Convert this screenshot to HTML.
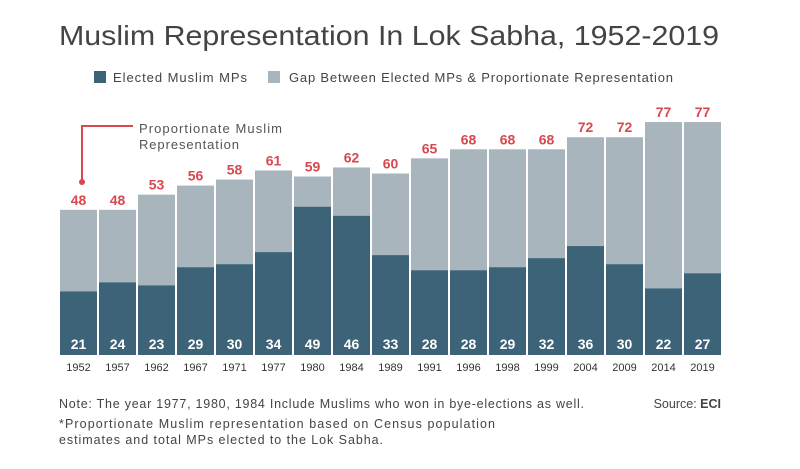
<!DOCTYPE html>
<html><head><meta charset="utf-8"><style>
body{margin:0;background:#fff;font-family:"Liberation Sans",sans-serif;}
svg{display:block}
</style></head><body>
<svg width="800" height="469" viewBox="0 0 800 469">
<text x="59" y="45" font-size="28" fill="#444" textLength="660" lengthAdjust="spacingAndGlyphs">Muslim Representation In Lok Sabha, 1952-2019</text>
<rect x="94" y="71" width="12" height="12" fill="#3d6378"/>
<text x="113" y="82" font-size="13" fill="#444" textLength="134">Elected Muslim MPs</text>
<rect x="268" y="71" width="12" height="12" fill="#a9b5bc"/>
<text x="289" y="82" font-size="13" fill="#444" textLength="384">Gap Between Elected MPs &amp; Proportionate Representation</text>
<g id="bars"></g>
<path d="M82,182 V126 H133" stroke="#d9474f" stroke-width="2" fill="none"/>
<circle cx="82" cy="182" r="3" fill="#d9474f"/>
<text x="139" y="133" font-size="13" fill="#555"><tspan x="139" textLength="143">Proportionate Muslim</tspan><tspan x="139" dy="16" textLength="100">Representation</tspan></text>
<text x="59" y="408" font-size="12.5" fill="#444" textLength="525">Note: The year 1977, 1980, 1984 Include Muslims who won in bye-elections as well.</text>
<text x="721" y="408" font-size="12.5" fill="#444" text-anchor="end">Source: <tspan font-weight="bold">ECI</tspan></text>
<text x="59" y="428" font-size="12.5" fill="#444"><tspan x="59" textLength="436">*Proportionate Muslim representation based on Census population</tspan><tspan x="59" dy="16" textLength="324">estimates and total MPs elected to the Lok Sabha.</tspan></text>
</svg>
<script>
const years=["1952","1957","1962","1967","1971","1977","1980","1984","1989","1991","1996","1998","1999","2004","2009","2014","2019"];
const elected=[21,24,23,29,30,34,49,46,33,28,28,29,32,36,30,22,27];
const proportionate=[48,48,53,56,58,61,59,62,60,65,68,68,68,72,72,77,77];
const NS="http://www.w3.org/2000/svg";
const g=document.getElementById('bars');
const x0=60,slot=39,bw=37,base=355,k=3.025;
const xs=i=>x0+i*slot;
const ys=v=>base-v*k;
function mk(tag,attrs,txt){const e=document.createElementNS(NS,tag);for(const a in attrs)e.setAttribute(a,attrs[a]);if(txt!=null)e.textContent=txt;g.appendChild(e);return e;}
years.forEach((y,i)=>{
 const x=xs(i);
 let r=mk('rect',{x:x,y:ys(proportionate[i]),width:bw,height:base-ys(proportionate[i]),fill:'#a9b5bc'});
 
 
 r=mk('rect',{x:x,y:ys(elected[i]),width:bw,height:base-ys(elected[i]),fill:'#3d6378'});
 
 
 let t=mk('text',{x:x+bw/2,y:ys(proportionate[i])-5,'text-anchor':'middle','font-size':14,'font-weight':'bold',fill:'#d9474f'},proportionate[i]);
 
 
 t=mk('text',{x:x+bw/2,y:349,'text-anchor':'middle','font-size':14,'font-weight':'bold',fill:'#fff'},elected[i]);
 
 
 t=mk('text',{x:x+bw/2,y:371,'text-anchor':'middle','font-size':11,fill:'#333'},y);
 
 
});
</script>
</body></html>
